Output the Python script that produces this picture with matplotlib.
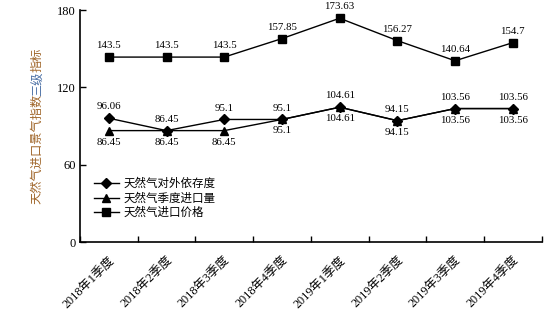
import matplotlib
matplotlib.use("Agg")
import matplotlib.pyplot as plt
import numpy as np

plt.rcParams['font.family'] = ['Liberation Serif', 'Noto Sans CJK SC']

categories = ["2018年1季度", "2018年2季度", "2018年3季度", "2018年4季度",
              "2019年1季度", "2019年2季度", "2019年3季度", "2019年4季度"]
dependence = [96.06, 86.45, 95.1, 95.1, 104.61, 94.15, 103.56, 103.56]
volume = [86.45, 86.45, 86.45, 95.1, 104.61, 94.15, 103.56, 103.56]
price = [143.5, 143.5, 143.5, 157.85, 173.63, 156.27, 140.64, 154.7]
names = ["天然气对外依存度", "天然气季度进口量", "天然气进口价格"]
yticks = [0, 60, 120, 180]

fig = plt.figure(figsize=(5.55, 3.24), dpi=100)
ax = fig.add_axes([0.144, 0.253, 0.832, 0.716])
x = np.arange(len(categories))

ax.plot(x, dependence, color='black', lw=1.0, marker='D', ms=5, label=names[0], zorder=3)
ax.plot(x, volume, color='black', lw=1.0, marker='^', ms=6, label=names[1], zorder=3)
ax.plot(x, price, color='black', lw=1.0, marker='s', ms=5.5, label=names[2], zorder=3)

def fmt(v):
    return ('%g' % v)

for xi, v in zip(x, dependence):
    ax.annotate(fmt(v), (xi, v), xytext=(0, 5), textcoords='offset points',
                ha='center', va='bottom', fontsize=7.8)
for xi, v in zip(x, volume):
    ax.annotate(fmt(v), (xi, v), xytext=(0, -5), textcoords='offset points',
                ha='center', va='top', fontsize=7.8)
for xi, v in zip(x, price):
    ax.annotate(fmt(v), (xi, v), xytext=(0, 5), textcoords='offset points',
                ha='center', va='bottom', fontsize=7.8)

ax.set_xlim(-0.5, len(categories) - 0.5)
ax.set_ylim(0, 180)
ax.set_yticks(yticks)
ax.set_yticklabels([str(t) for t in yticks], fontsize=9)
ax.set_xticks(np.arange(len(categories) + 1) - 0.5)
ax.set_xticklabels([])
ax.set_xticks(x, minor=True)
ax.set_xticklabels(categories, minor=True, rotation=45, ha='right',
                   rotation_mode='anchor', fontsize=8.8)
ax.tick_params(axis='x', which='minor', length=0, pad=9)
ax.tick_params(axis='x', which='major', direction='in', length=4, width=1)
ax.tick_params(axis='y', direction='in', length=4, width=1, pad=3)
ax.spines['top'].set_visible(False)
ax.spines['right'].set_visible(False)
for s in ['left', 'bottom']:
    ax.spines[s].set_linewidth(1.2)

leg = ax.legend(loc='lower left', bbox_to_anchor=(0.02, 0.08), frameon=False,
                fontsize=8.3, handlelength=2.2, handletextpad=0.4,
                labelspacing=0.2, borderaxespad=0)

# y-axis label (multi-coloured parts), CJK glyphs are monospaced
brown = '#a0662a'
blue = '#4a6fa5'
parts = [("天然气进口景气指数", brown), ("三级", blue), ("指标", brown)]
total = sum(len(p) for p, _ in parts)
bottom_px, top_px = 324 - 203, 324 - 48
char_px = (top_px - bottom_px) / total
start = 0
for txt, col in parts:
    cy = bottom_px + (start + len(txt) / 2) * char_px
    fig.text(0.067, cy / 324, txt, rotation=90, ha='center', va='center',
             fontsize=8.8, color=col, family=['Noto Sans CJK SC'])
    start += len(txt)

fig.savefig("out.png", dpi=100)
